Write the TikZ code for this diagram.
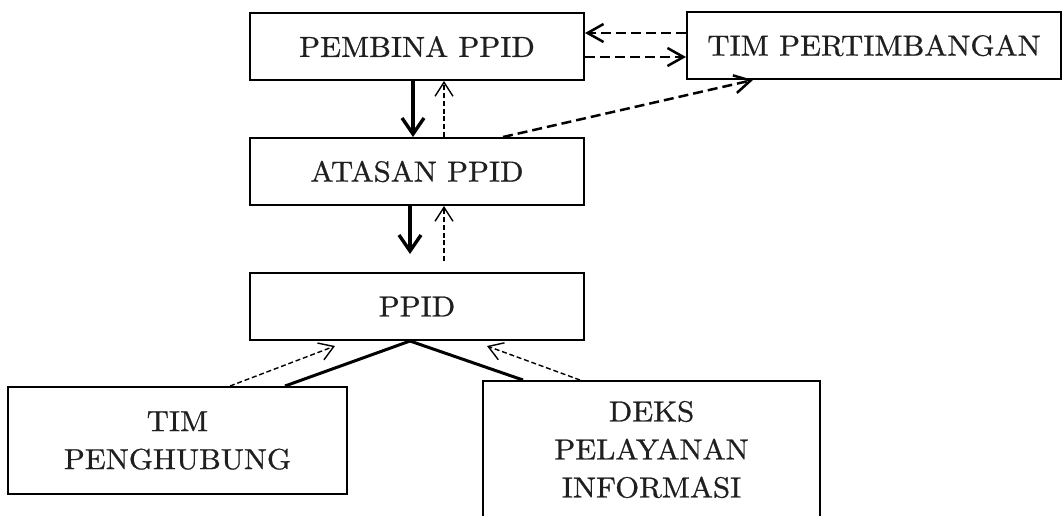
\documentclass[tikz,border=0pt]{standalone}
\usepackage{fontspec}
\setmainfont{lmroman10-regular.otf}[FakeStretch=1.06,FakeBold=0.8]
\usetikzlibrary{arrows.meta,calc}
\begin{document}
\begin{tikzpicture}[x=0.5pt,y=-0.5pt,
  box/.style={draw,line width=1pt,inner sep=0pt,align=center,
    font=\fontsize{14.5}{19}\selectfont,minimum height=33.5pt,text=black!88},
  solidarr/.style={line width=1.7pt,-{Straight Barb[length=8pt,width=11pt,line width=1.7pt]}},
  solidline/.style={line width=1.5pt},
  thinarr/.style={line width=0.7pt,dash pattern=on 2.5pt off 1.4pt,
    -{Straight Barb[length=7pt,width=9pt,line width=0.7pt]}},
  medarr/.style={line width=1.25pt,dash pattern=on 5pt off 2.5pt,
    -{Straight Barb[length=8pt,width=9pt,line width=1.25pt]}}
]
\useasboundingbox (0,0) rectangle (1063,515);
\clip (0,0) rectangle (1063,515);
\node[box,minimum width=167pt] (pembina) at (417,46.5) {PEMBINA PPID};
\node[box,minimum width=187pt] (tim) at (874,45.5) {TIM PERTIMBANGAN};
\node[box,minimum width=167pt] (atasan) at (417,171.5) {ATASAN PPID};
\node[box,minimum width=167pt] (ppid) at (417,306.5) {PPID};
\node[box,minimum width=169.5pt,minimum height=53.5pt] (hub) at (177.5,440.5) {TIM\\PENGHUBUNG};
\node[box,minimum width=168.5pt,minimum height=68.5pt] (deks) at (651.5,449.5) {DEKS\\PELAYANAN\\INFORMASI};
% vertical arrows
\draw[solidarr] ($(pembina.south)+(-4,0)$) -- ($(atasan.north)+(-4,0)$);
\draw[thinarr] ($(atasan.north)+(27,0)$) -- ($(pembina.south)+(27,0)$);
\draw[solidarr,shorten >=9pt] ($(atasan.south)+(-7,0)$) -- ($(ppid.north)+(-7,0)$);
\draw[thinarr,shorten <=5.5pt] ($(ppid.north)+(27,0)$) -- ($(atasan.south)+(27,0)$);
% pembina <-> tim pertimbangan
\draw[medarr] ($(tim.west)+(0,-12.5)$) -- ($(pembina.east)+(0,-13.5)$);
\draw[medarr] ($(pembina.east)+(0,10.5)$) -- ($(tim.west)+(0,11.5)$);
\draw[medarr] ($(atasan.north)+(86,0)$) -- ($(tim.south)+(-121,0)$);
% ppid to lower boxes
\draw[solidline] ($(ppid.south)+(-7,0)$) -- ($(hub.north)+(107.5,0)$);
\draw[solidline] ($(ppid.south)+(-7,0)$) -- ($(deks.north)+(-128.5,0)$);
\draw[thinarr] ($(hub.north)+(52.5,0)$) -- ($(ppid.south)+(-82,5)$);
\draw[thinarr] ($(deks.north)+(-71.5,0)$) -- ($(ppid.south)+(70,5)$);
\end{tikzpicture}
\end{document}
